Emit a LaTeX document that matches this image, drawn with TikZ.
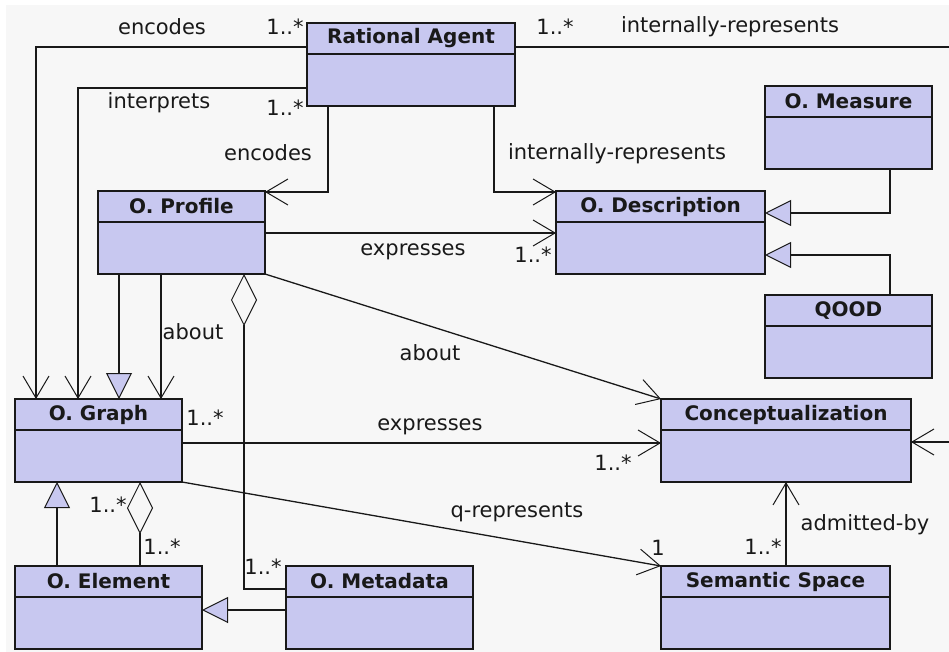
\documentclass[tikz,border=0pt]{standalone}
\usepackage{fontspec}
\setmainfont{DejaVu Sans}
\usetikzlibrary{arrows.meta}

\definecolor{lav}{RGB}{200,200,240}
\definecolor{paper}{RGB}{247,247,247}
\definecolor{ink}{RGB}{25,25,25}

\tikzset{
  clsbox/.style={draw=ink, fill=lav, line width=1.5pt, anchor=north west, inner sep=0pt, outer sep=0pt, minimum height=83pt},
  clstitle/.style={font=\fontsize{20}{24}\selectfont\bfseries, text=ink, inner sep=0pt},
  lbl/.style={font=\fontsize{21}{25}\selectfont, text=ink, inner sep=0pt},
  assoc/.style={draw=ink, line width=1.3pt, -{Straight Barb[length=22pt,width=26pt,line width=1pt]}},
  isa/.style={draw=ink, line width=1.3pt, -{Triangle[length=26pt,width=26pt,fill=lav,line width=1pt]}},
  part/.style={draw=ink, line width=1.3pt, {Diamond[length=52pt,width=26pt,fill=paper,line width=1pt]}-},
}

% class box: name, north west corner, width, title
\newcommand{\umlclass}[4]{%
  \node[clsbox, minimum width=#3pt] (#1) at #2 {};
  \draw[draw=ink, line width=1.5pt] ([yshift=-31pt]#1.north west) -- ([yshift=-31pt]#1.north east);
  \node[clstitle] (#1-title) at ([yshift=-15.5pt]#1.north) {#4};
}

\begin{document}
\begin{tikzpicture}[x=1pt,y=-1pt]
      \useasboundingbox (0,0) rectangle (949,652);
      \clip (0,0) rectangle (949,652);
      \fill[white] (0,0) rectangle (949,652);
      \fill[paper] (6,5) rectangle (949,652);

      % classes
      \umlclass{ra}{(307,23)}{208}{Rational Agent}
      \umlclass{measure}{(765,86)}{167}{O. Measure}
      \umlclass{profile}{(98,191)}{167}{O. Profile}
      \umlclass{desc}{(556,191)}{209}{O. Description}
      \umlclass{qood}{(765,295)}{167}{QOOD}
      \umlclass{graph}{(15,399)}{167}{O. Graph}
      \umlclass{concept}{(661,399)}{250}{Conceptualization}
      \umlclass{element}{(15,566)}{187}{O. Element}
      \umlclass{metadata}{(286,566)}{187}{O. Metadata}
      \umlclass{semspace}{(661,566)}{229}{Semantic Space}
      \coordinate (rim) at (962,300);

      % Rational Agent
      \draw[assoc] ([yshift=-24pt]ra.north west) -| ([xshift=21pt]graph.north west);
      \draw[assoc] ([yshift=-65pt]ra.north west) -| ([xshift=63pt]graph.north west);
      \draw[assoc] ([xshift=21pt]ra.south west) |- ([yshift=-1pt]profile.north east);
      \draw[assoc] ([xshift=187pt]ra.south west) |- ([yshift=-1pt]desc.north west);
      \draw[assoc] ([yshift=-24pt]ra.north east) -| (rim) |- ([yshift=-43pt]concept.north east);

      % O. Profile
      \draw[assoc] ([yshift=-42pt]profile.north east) -- ([yshift=-42pt]desc.north west);
      \draw[isa] ([xshift=21pt]profile.south west) -- ([xshift=104pt]graph.north west);
      \draw[assoc] ([xshift=63pt]profile.south west) -- ([xshift=146pt]graph.north west);
      \draw[part] ([xshift=146pt]profile.south west) |- ([yshift=-23pt]metadata.north west);
      \draw[assoc] (profile.south east) -- (concept.north west);

      % O. Description
      \draw[isa] ([xshift=125pt]measure.south west) |- ([yshift=-22pt]desc.north east);
      \draw[isa] ([xshift=125pt]qood.north west) |- ([yshift=-64pt]desc.north east);

      % O. Graph
      \draw[assoc] ([yshift=-44pt]graph.north east) -- ([yshift=-44pt]concept.north west);
      \draw[assoc] (graph.south east) -- (semspace.north west);
      \draw[isa] ([xshift=42pt]element.north west) -- ([xshift=42pt]graph.south west);
      \draw[part] ([xshift=125pt]graph.south west) -- ([xshift=125pt]element.north west);
      \draw[isa] ([yshift=-44pt]metadata.north west) -- ([yshift=-44pt]element.north east);
      \draw[assoc] ([xshift=125pt]semspace.north west) -- ([xshift=125pt]concept.south west);

      % labels
      \node[lbl] (l-enc1) at (162,27) {encodes};
      \node[lbl] (m-enc1) at (285,27) {1..*};
      \node[lbl] (l-interp) at (159,103) {interprets};
      \node[lbl] (m-interp) at (285,108) {1..*};
      \node[lbl] (l-enc2) at (268,153) {encodes};
      \node[lbl] (m-irep1) at (555,27) {1..*};
      \node[lbl] (l-irep1) at (730,27) {internally-represents};
      \node[lbl] (l-irep2) at (617,154) {internally-represents};
      \node[lbl] (l-expr1) at (413,252) {expresses};
      \node[lbl] (m-expr1) at (533,255) {1..*};
      \node[lbl] (l-about1) at (193,332) {about};
      \node[lbl] (l-about2) at (430,353) {about};
      \node[lbl] (l-expr2) at (430,427) {expresses};
      \node[lbl] (m-expr2a) at (205,418) {1..*};
      \node[lbl] (m-expr2b) at (613,463) {1..*};
      \node[lbl] (l-qrep) at (517,512) {q-represents};
      \node[lbl] (m-qrep) at (658,548) {1};
      \node[lbl] (m-part1) at (108,505) {1..*};
      \node[lbl] (m-part2) at (162,547) {1..*};
      \node[lbl] (m-meta) at (263,567) {1..*};
      \node[lbl] (l-admit) at (865,525) {admitted-by};
      \node[lbl] (m-admit) at (763,547) {1..*};
    \end{tikzpicture}
\end{document}
